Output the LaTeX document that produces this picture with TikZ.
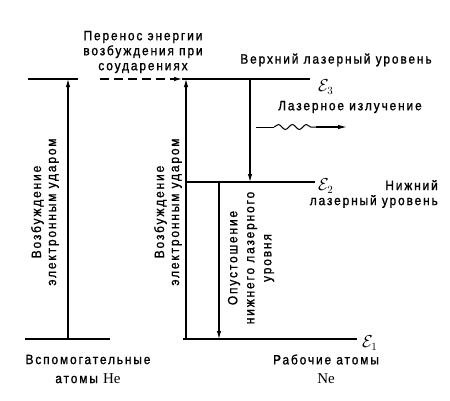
\documentclass[tikz,border=0pt]{standalone}
\usepackage{fontspec}
\newfontfamily\lblfont[FakeStretch=0.88,LetterSpace=14,FakeBold=1.2]{Liberation Sans}
\newfontfamily\elfont{Liberation Serif}
\usetikzlibrary{arrows.meta,decorations.pathmorphing}
\tikzset{
  level/.style={line width=1.6pt},
  pump/.style={line width=1.1pt,-{Latex[length=8pt,width=4.5pt]}},
  lbl/.style={font=\lblfont\fontsize{13.5}{15}\selectfont,align=center,inner sep=0pt},
  lvl/.style={font=\fontsize{16}{16}\selectfont,inner sep=0pt,anchor=west},
}
\begin{document}
\begin{tikzpicture}[x=1pt,y=1pt]
    \useasboundingbox (0,0) rectangle (450,400);
    % levels
    \coordinate (he3w) at (28,321);  \coordinate (he3e) at (78,321);
    \coordinate (he1w) at (25,61);   \coordinate (he1e) at (110,61);
    \coordinate (e3w) at (182,321);  \coordinate (e3e) at (310,321);
    \coordinate (e2w) at (186,218);  \coordinate (e2e) at (315,218);
    \coordinate (e1w) at (183,61);   \coordinate (e1e) at (357,61);
    \draw[level] (he3w) -- (he3e);
    \draw[level] (he1w) -- (he1e);
    \draw[level] (e3w) -- (e3e);
    \draw[level] (e2w) -- (e2e);
    \draw[level] (e1w) -- (e1e);
    \node[lvl] (eps3) at (318,313) {$\mathcal{E}_3$};
    \node[lvl] (eps2) at (318,214) {$\mathcal{E}_2$};
    \node[lvl] (eps1) at (362,57) {$\mathcal{E}_1$};
    % transitions
    \coordinate (hepa) at (68,61);   \coordinate (hepb) at (68,321);
    \coordinate (nepa) at (186,61);  \coordinate (nepb) at (186,321);
    \coordinate (lasa) at (250,321); \coordinate (lasb) at (250,218);
    \coordinate (depa) at (219,218); \coordinate (depb) at (219,61);
    \coordinate (tra) at (100,321);  \coordinate (trb) at (182,321);
    \draw[pump] (hepa) -- (hepb);
    \draw[pump] (nepa) -- (nepb);
    \draw[pump] (lasa) -- (lasb);
    \draw[pump] (depa) -- (depb);
    \draw[pump,dashed,dash pattern=on 9pt off 5pt] (tra) -- (trb);
    % laser output
    \coordinate (wva) at (256,273);
    \coordinate (wvm) at (316,273);
    \coordinate (wvb) at (347,273);
    \draw[line width=1pt] (wva) -- ++(18,0);
    \draw[line width=1pt,decorate,
        decoration={snake,amplitude=2.5pt,segment length=14pt}] (274,273) -- (wvm);
    \draw[line width=1.1pt,-{Latex[length=9pt,width=4.5pt]}] (wvm) -- (wvb);
    % labels
    \node[lbl] (transfer) at (143,348) {Перенос энергии\\возбуждения при\\соударениях};
    \node[lbl] (upper) at (336,340) {Верхний лазерный уровень};
    \node[lbl] (emit) at (350,293) {Лазерное излучение};
    \node[lbl,align=right,anchor=east] (lower) at (438,206) {Нижний\\лазерный уровень};
    \node[lbl,rotate=90] (heexc) at (45,188) {Возбуждение\\электронным ударом};
    \node[lbl,rotate=90] (neexc) at (168,188) {Возбуждение\\электронным ударом};
    \node[lbl,rotate=90,font=\lblfont\fontsize{13.5}{17}\selectfont] (empty) at (251,142) {Опустошение\\нижнего лазерного\\уровня};
    \node[lbl,font=\lblfont\fontsize{13.5}{19}\selectfont] (heatoms) at (88,31) {Вспомогательные\\атомы {\elfont\fontsize{15}{19}\selectfont He}};
    \node[lbl,font=\lblfont\fontsize{13.5}{19}\selectfont] (neatoms) at (326,31) {Рабочие атомы\\{\elfont\fontsize{15}{19}\selectfont Ne}};
\end{tikzpicture}
\end{document}
